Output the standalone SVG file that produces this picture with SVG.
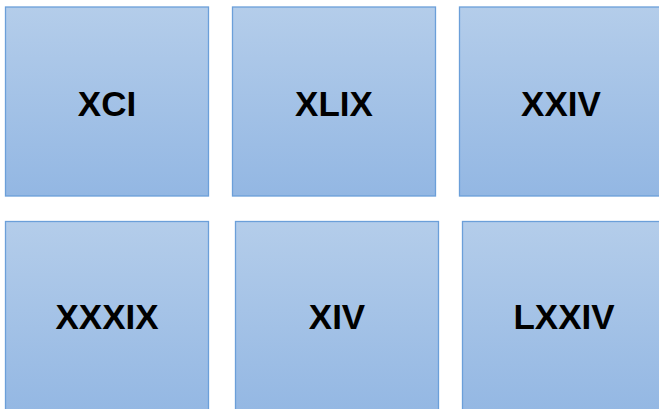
<svg xmlns="http://www.w3.org/2000/svg" width="659" height="409" viewBox="0 0 659 409">
<defs>
<linearGradient id="g" x1="0" y1="0" x2="0" y2="1">
<stop offset="0" stop-color="#b4cdea"/>
<stop offset="1" stop-color="#93b7e3"/>
</linearGradient>
<style>
.b{fill:url(#g);stroke:#6b9fd9;stroke-width:1.3}
.t{font-family:"Liberation Sans",Arial,sans-serif;font-weight:bold;font-size:35px;fill:#000;text-anchor:middle}
</style>
</defs>
<rect width="659" height="409" fill="#fff"/>
<g id="n1"><rect class="b" x="5.5" y="7" width="203" height="189"/><text class="t" x="107" y="115.5">XCI</text></g>
<g id="n2"><rect class="b" x="232.5" y="7" width="203" height="189"/><text class="t" x="334" y="115.5">XLIX</text></g>
<g id="n3"><rect class="b" x="459.5" y="7" width="203" height="189"/><text class="t" x="561" y="115.5">XXIV</text></g>
<g id="n4"><rect class="b" x="5.5" y="221.5" width="203" height="195"/><text class="t" x="107" y="329">XXXIX</text></g>
<g id="n5"><rect class="b" x="235.5" y="221.5" width="203" height="195"/><text class="t" x="337" y="329">XIV</text></g>
<g id="n6"><rect class="b" x="462.5" y="221.5" width="203" height="195"/><text class="t" x="564" y="329">LXXIV</text></g>
<g id="connectors"/>
</svg>
